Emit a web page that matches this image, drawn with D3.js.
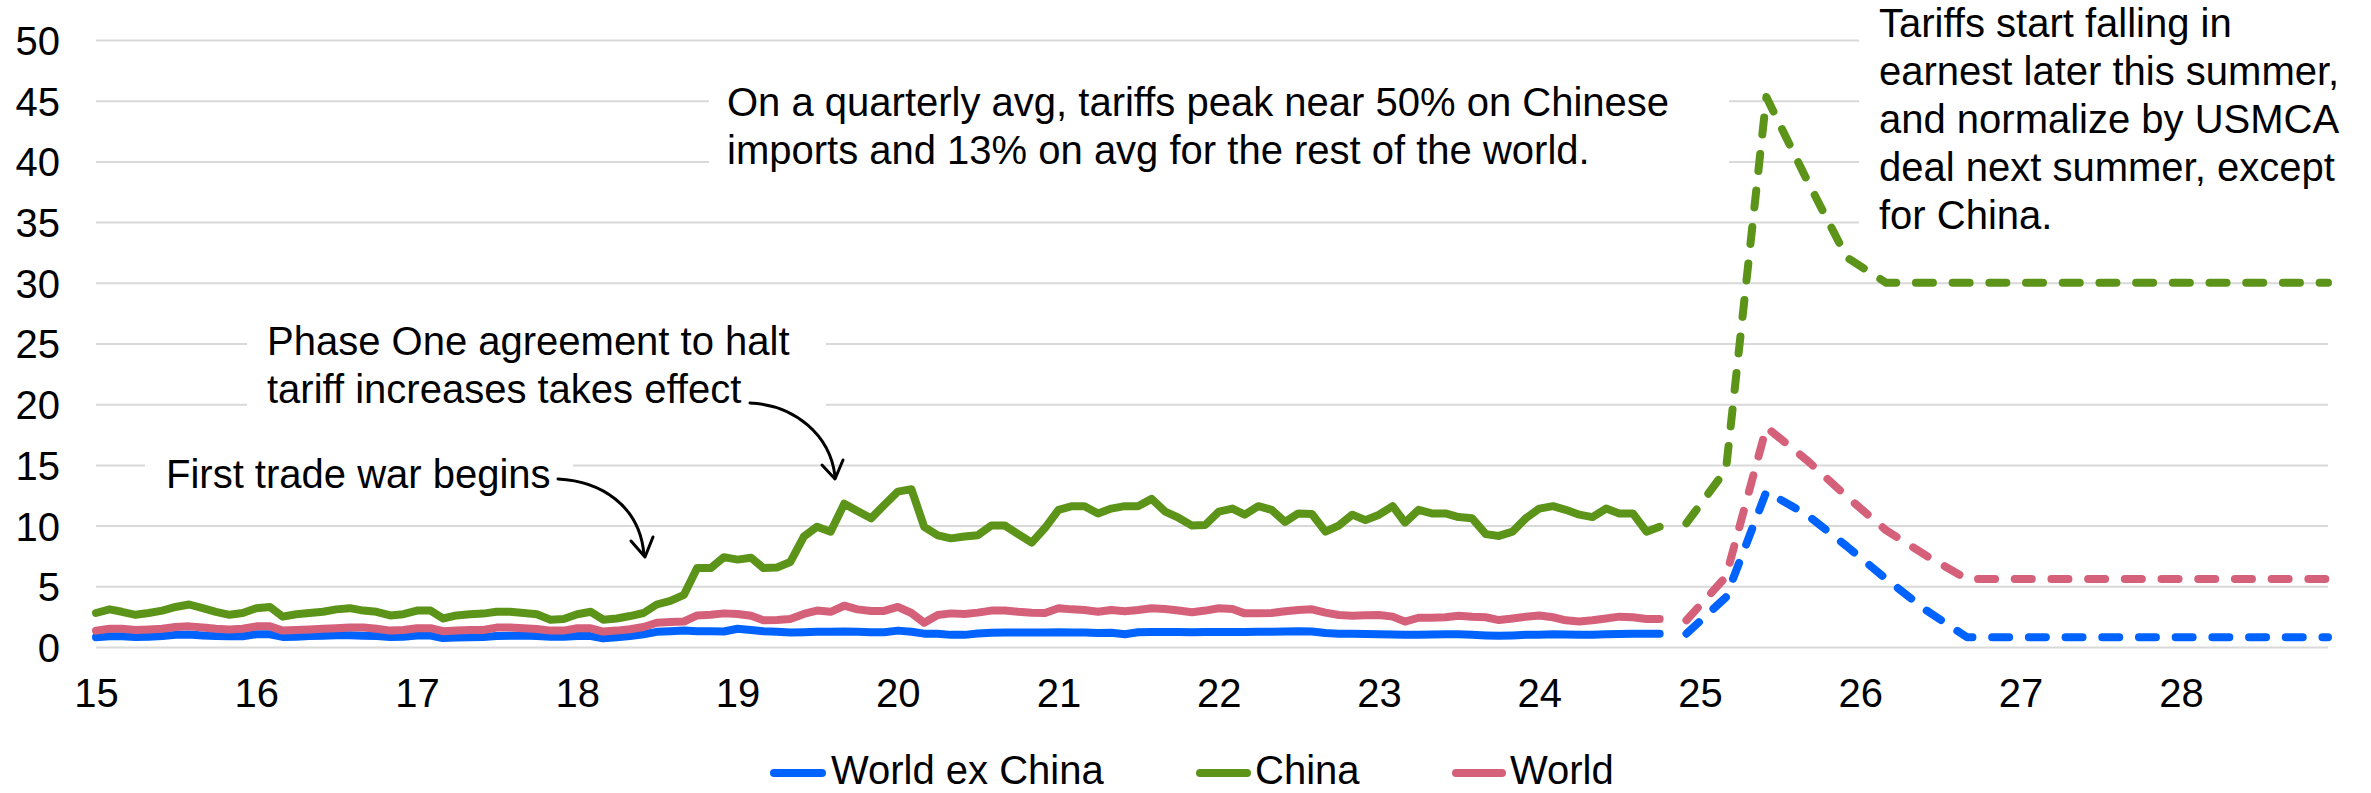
<!DOCTYPE html>
<html>
<head>
<meta charset="utf-8">
<script src="https://cdn.jsdelivr.net/npm/d3@7"></script>
<style>
  html, body { margin: 0; padding: 0; background: #ffffff; }
  svg { display: block; }
  text { font-family: "Liberation Sans", Arial, Helvetica, sans-serif; fill: #000; }
</style>
</head>
<body>
<svg id="chart" width="2371" height="793"></svg>
<script>
// ---------------- DATA ----------------
const histStart = new Date(2015, 0, 1);   // monthly, Jan 2015 .. Oct 2024
const histWorldExChina = [
  0.8,0.88,0.88,0.83,0.85,0.9,1.0,1.02,0.95,0.9,0.88,0.88,
  1.05,1.05,0.83,0.85,0.9,0.93,0.96,0.96,0.93,0.9,0.83,0.85,
  0.94,0.94,0.74,0.78,0.8,0.82,0.9,0.92,0.95,0.9,0.85,0.85,
  0.9,0.9,0.71,0.8,0.9,1.05,1.25,1.3,1.35,1.3,1.3,1.28,
  1.5,1.4,1.3,1.25,1.2,1.22,1.26,1.26,1.28,1.26,1.22,1.22,
  1.35,1.25,1.1,1.1,1.0,1.0,1.12,1.18,1.2,1.2,1.2,1.2,
  1.22,1.2,1.2,1.15,1.18,1.05,1.22,1.24,1.24,1.24,1.22,1.24,
  1.24,1.24,1.24,1.26,1.26,1.28,1.3,1.28,1.15,1.1,1.1,1.08,
  1.05,1.02,1.0,1.0,1.02,1.05,1.05,1.0,0.95,0.92,0.95,1.0,
  1.0,1.05,1.02,1.0,1.0,1.05,1.08,1.1,1.1,1.1
];
const histChina = [
  2.8,3.1,2.9,2.65,2.8,3.0,3.3,3.5,3.2,2.9,2.65,2.8,
  3.2,3.3,2.5,2.7,2.8,2.9,3.1,3.2,3.0,2.9,2.6,2.7,
  3.0,3.0,2.35,2.6,2.7,2.75,2.9,2.9,2.8,2.7,2.25,2.3,
  2.7,2.9,2.25,2.35,2.55,2.8,3.5,3.8,4.3,6.5,6.5,7.4,
  7.2,7.35,6.5,6.55,7.0,9.1,9.9,9.5,11.8,11.2,10.6,11.7,
  12.8,13.0,9.9,9.2,8.95,9.1,9.2,10.0,10.0,9.3,8.6,9.8,
  11.3,11.6,11.6,11.0,11.4,11.6,11.6,12.2,11.15,10.65,10.0,10.05,
  11.15,11.4,10.9,11.6,11.3,10.3,11.0,10.95,9.5,10.0,10.9,10.45,
  10.9,11.6,10.25,11.3,11.0,11.0,10.7,10.6,9.3,9.15,9.5,10.6,
  11.4,11.6,11.3,10.9,10.7,11.4,11.0,11.0,9.5,9.9
];
const histWorld = [
  1.35,1.5,1.5,1.4,1.45,1.5,1.65,1.7,1.6,1.5,1.45,1.5,
  1.7,1.7,1.35,1.4,1.45,1.5,1.55,1.6,1.6,1.5,1.35,1.4,
  1.55,1.55,1.3,1.35,1.4,1.4,1.6,1.6,1.55,1.48,1.35,1.35,
  1.54,1.54,1.27,1.35,1.46,1.65,2.0,2.05,2.1,2.6,2.65,2.77,
  2.72,2.58,2.2,2.22,2.3,2.72,3.0,2.9,3.4,3.1,2.97,2.97,
  3.3,2.8,2.0,2.64,2.77,2.72,2.83,3.0,3.0,2.9,2.83,2.8,
  3.19,3.1,3.05,2.9,3.05,2.95,3.05,3.19,3.13,3.0,2.86,3.0,
  3.19,3.13,2.77,2.77,2.8,2.95,3.05,3.1,2.83,2.64,2.58,2.62,
  2.64,2.5,2.09,2.41,2.41,2.45,2.58,2.5,2.45,2.22,2.35,2.5,
  2.6,2.45,2.2,2.1,2.2,2.35,2.5,2.45,2.3,2.3
];

const fcStart = new Date(2024, 11, 1);    // quarterly forecast, Dec 2024 .. Dec 2028
const fcWorldExChina = [1.1,4.1,12.8,10.9,8.3,5.6,3.0,0.8,0.8,0.8,0.8,0.8,0.8,0.8,0.8,0.8,0.8];
const fcChina        = [10.2,14.6,45.3,38.5,32.1,30,30,30,30,30,30,30,30,30,30,30,30];
const fcWorld        = [2.2,5.8,18.1,15.4,12.4,9.6,7.5,5.6,5.6,5.6,5.6,5.6,5.6,5.6,5.6,5.6,5.6];

const seriesNames  = ["World ex China", "China", "World"];
const seriesColors = ["#0063FF", "#5B9419", "#D5607A"];

const yTicks = [0,5,10,15,20,25,30,35,40,45,50];
const xTickYears  = [2015,2016,2017,2018,2019,2020,2021,2022,2023,2024,2025,2026,2027,2028];
const xTickLabels = ["15","16","17","18","19","20","21","22","23","24","25","26","27","28"];

const notes = [
  { lines: ["On a quarterly avg, tariffs peak near 50% on Chinese", "imports and 13% on avg for the rest of the world."],
    x: 727, y0: 116, box: [709, 56, 1729, 196] },
  { lines: ["Tariffs start falling in", "earnest later this summer,", "and normalize by USMCA", "deal next summer, except", "for China."],
    x: 1879, y0: 37, box: [1859, 0, 2371, 250] },
  { lines: ["Phase One agreement to halt", "tariff increases takes effect"],
    x: 267, y0: 355, box: [247, 305, 826, 425] },
  { lines: ["First trade war begins"],
    x: 166, y0: 488, box: [145, 445, 573, 500] }
];

// ---------------- CHART ----------------
(function () {
const svg = d3.select("#chart");
const W = 2371, H = 793;
const pLeft = 96, pRight = 2328, pTop = 40, pBottom = 647;
const lineH = 48;
const FS = 40;

const x = d3.scaleTime()
  .domain([new Date(2015, 0, 1), new Date(2028, 11, 1)])
  .range([pLeft, pRight]);
const y = d3.scaleLinear().domain([0, 50]).range([pBottom, pTop]);

svg.append("rect").attr("width", W).attr("height", H).attr("fill", "#fff");

// gridlines
const grid = svg.append("g").attr("transform", `translate(${pLeft},0)`)
  .call(d3.axisLeft(y).tickValues(yTicks).tickSize(-(pRight - pLeft)).tickFormat(""));
grid.select(".domain").remove();
grid.selectAll("line").attr("stroke", "#d9d9d9").attr("stroke-width", 2);

// white boxes behind annotations (interrupt gridlines)
svg.append("g").selectAll("rect").data(notes).join("rect")
  .attr("x", d => d.box[0]).attr("y", d => d.box[1])
  .attr("width", d => d.box[2] - d.box[0]).attr("height", d => d.box[3] - d.box[1])
  .attr("fill", "#fff");

// y labels
const yAx = svg.append("g").attr("transform", `translate(${pLeft},0)`)
  .call(d3.axisLeft(y).tickValues(yTicks).tickSize(0).tickPadding(36));
yAx.select(".domain").remove();
yAx.selectAll("text").attr("font-size", FS).attr("dy", "0.36em")
  .style("font-family", '"Liberation Sans", Arial, sans-serif').attr("fill", "#000");

// x labels
const xDates = xTickYears.map(yr => new Date(yr, 0, 1));
const xAx = svg.append("g")
  .call(d3.axisBottom(x).tickValues(xDates).tickSize(0)
    .tickFormat((d, i) => xTickLabels[i]));
xAx.select(".domain").remove();
xAx.selectAll("text").attr("font-size", FS).attr("y", 707).attr("dy", 0)
  .style("font-family", '"Liberation Sans", Arial, sans-serif').attr("fill", "#000");

// series
const hist = [histWorldExChina, histChina, histWorld];
const fc = [fcWorldExChina, fcChina, fcWorld];
const lineGen = d3.line().x(d => x(d.date)).y(d => y(d.v));
const LW = 8;

const gLines = svg.append("g");
hist.forEach((arr, k) => {
  const pts = arr.map((v, i) => ({ date: d3.timeMonth.offset(histStart, i), v }));
  gLines.append("path").datum(pts).attr("d", lineGen)
    .attr("fill", "none").attr("stroke", seriesColors[k]).attr("stroke-width", LW)
    .attr("stroke-linejoin", "round").attr("stroke-linecap", "round");
});
fc.forEach((arr, k) => {
  const pts = arr.map((v, i) => ({ date: d3.timeMonth.offset(fcStart, 3 * i), v }));
  gLines.append("path").datum(pts).attr("d", lineGen)
    .attr("fill", "none").attr("stroke", seriesColors[k]).attr("stroke-width", LW)
    .attr("stroke-linejoin", "round").attr("stroke-linecap", "round")
    .attr("stroke-dasharray", "17 19.7");
});

// annotations text
notes.forEach(n => {
  const t = svg.append("text").attr("font-size", FS);
  n.lines.forEach((ln, i) => {
    t.append("tspan").attr("x", n.x).attr("y", n.y0 + i * lineH).text(ln);
  });
});

// arrows
const arrows = svg.append("g").attr("fill", "none").attr("stroke", "#000")
  .attr("stroke-width", 3).attr("stroke-linecap", "round").attr("stroke-linejoin", "round");
arrows.append("path").attr("d", "M558,479 C600,481 640,505 644,555");
arrows.append("path").attr("d", "M631,541 L645,557 L653,537");
arrows.append("path").attr("d", "M750,403 C795,405 830,435 835,476");
arrows.append("path").attr("d", "M822,465 L835,479 L843,460");

// legend
const legendItems = [
  { name: seriesNames[0], color: seriesColors[0], x1: 774, x2: 822, tx: 831 },
  { name: seriesNames[1], color: seriesColors[1], x1: 1200, x2: 1247, tx: 1255 },
  { name: seriesNames[2], color: seriesColors[2], x1: 1456, x2: 1502, tx: 1510 }
];
const lg = svg.append("g");
legendItems.forEach(it => {
  lg.append("line").attr("x1", it.x1).attr("x2", it.x2).attr("y1", 773).attr("y2", 773)
    .attr("stroke", it.color).attr("stroke-width", LW).attr("stroke-linecap", "round");
  lg.append("text").attr("x", it.tx).attr("y", 784).attr("font-size", FS).text(it.name);
});
})();
</script>
</body>
</html>
